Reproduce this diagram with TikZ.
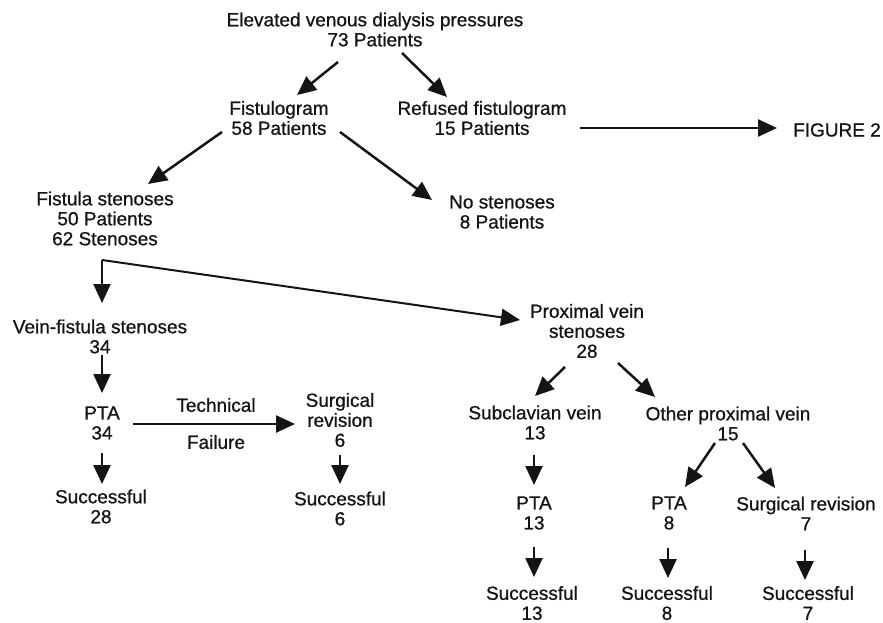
\documentclass[tikz,border=0pt]{standalone}
\usepackage{fontspec}
\setmainfont{Liberation Sans}[FakeBold=0.8]
\usetikzlibrary{arrows.meta,calc}
\begin{document}
\begin{tikzpicture}[x=1pt,y=-1pt,
  txt/.style={inner sep=0pt,align=center,text=black!92,font=\fontsize{19}{20}\selectfont},
  arr/.style={line width=2.5pt,black!92,-{Triangle[length=19pt,width=17pt]}},
  thinarr/.style={line width=2pt,black!92,line join=round,-{Triangle[length=19pt,width=17pt]}}]
\useasboundingbox (0,0) rectangle (883,623);
\node[txt] (top) at (375,29.5) {Elevated venous dialysis pressures\\73 Patients};
\node[txt] (fisto) at (279,118) {Fistulogram\\58 Patients};
\node[txt] (refused) at (482,118) {Refused fistulogram\\15 Patients};
\node[txt] (fig2) at (837,130) {FIGURE 2};
\node[txt] (fistula) at (105,218.5) {Fistula stenoses\\50 Patients\\62 Stenoses};
\node[txt] (nosten) at (502,212) {No stenoses\\8 Patients};
\node[txt] (veinf) at (100,336.5) {Vein-fistula stenoses\\34};
\node[txt] (pta34) at (102,423) {PTA\\34};
\node[txt] (tech) at (216,405) {Technical};
\node[txt] (fail) at (216,442) {Failure};
\node[txt] (surg6) at (340,420) {Surgical\\revision\\6};
\node[txt] (succ28) at (101,506.5) {Successful\\28};
\node[txt] (succ6) at (340,508.5) {Successful\\6};
\node[txt] (prox) at (587,331) {Proximal vein\\stenoses\\28};
\node[txt] (subcl) at (535,422.5) {Subclavian vein\\13};
\node[txt] (other) at (728,423.5) {Other proximal vein\\15};
\node[txt] (pta13) at (534,513) {PTA\\13};
\node[txt] (pta8) at (669,513) {PTA\\8};
\node[txt] (surg7) at (806,513.5) {Surgical revision\\7};
\node[txt] (succ13) at (532,603) {Successful\\13};
\node[txt] (succ8) at (667,603) {Successful\\8};
\node[txt] (succ7) at (808,603) {Successful\\7};

\draw[arr] ($(top)+(-37,32.5)$) -- ($(fisto)+(18,-23)$);
\draw[arr] ($(top)+(27,23.5)$) -- ($(refused)+(-35,-21)$);
\draw[arr] ($(refused)+(98,10)$) -- ($(fig2)+(-60,-2)$);
\draw[arr] ($(fisto)+(-57,14)$) -- ($(fistula)+(43,-34.5)$);
\draw[arr] ($(fisto)+(61,14)$) -- ($(nosten)+(-70,-12)$);
\coordinate (corner) at ($(fistula)+(-3,41.5)$);
\draw[thinarr] (corner) -- (corner |- {$(veinf)+(0,-33.5)$});
\draw[thinarr] (corner) -- ($(prox)+(-67,-11)$);
\draw[arr] ($(veinf)+(2,18.5)$) -- ($(pta34)+(0,-30)$);
\draw[arr] ($(pta34)+(31,1)$) -- ($(surg6)+(-45,4)$);
\draw[arr] ($(pta34)+(0,30)$) -- ($(succ28)+(1,-22.5)$);
\draw[arr] ($(surg6)+(0,35)$) -- ($(succ6)+(0,-24.5)$);
\draw[arr] ($(prox)+(-22,36)$) -- ($(subcl)+(0,-26.5)$);
\draw[arr] ($(prox)+(31,32)$) -- ($(other)+(-73,-26.5)$);
\draw[arr] ($(subcl)+(-1,32.5)$) -- ($(pta13)+(0,-28)$);
\draw[arr] ($(pta13)+(0,34)$) -- ($(succ13)+(2,-26)$);
\draw[arr] ($(other)+(-13,19.5)$) -- ($(pta8)+(16,-26)$);
\draw[arr] ($(other)+(15,19.5)$) -- ($(surg7)+(-31,-25.5)$);
\draw[arr] ($(pta8)+(-1,35)$) -- ($(succ8)+(1,-25)$);
\draw[arr] ($(surg7)+(-1,36.5)$) -- ($(succ7)+(-3,-23)$);
\end{tikzpicture}
\end{document}
